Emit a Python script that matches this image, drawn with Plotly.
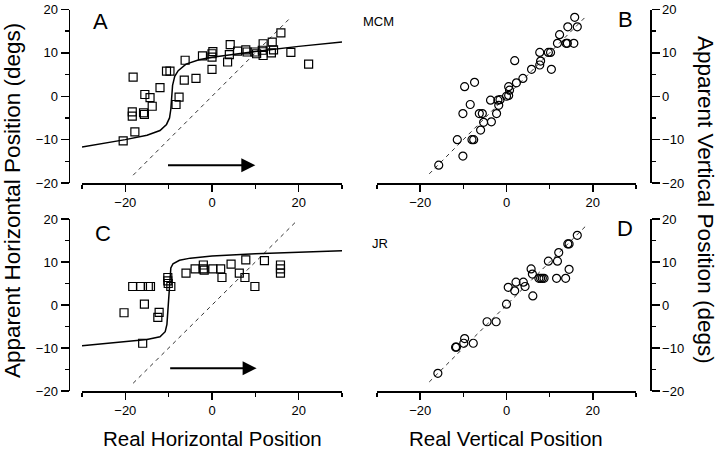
import plotly.graph_objects as go

# ---------------- data ----------------
# Panel A (MCM, horizontal)
a_x = [-20.5, -17.8, -18.2, -18.4, -18.4, -15.8, -15.6, -15.5, -14.3, -13.8, -12.0, -10.5, -9.7,
       -7.6, -8.3, -6.4, -3.7, -6.2, -2.2, 0.0, 0.2, 0.0, 0.0, 3.6, 4.0, 4.2, 5.9, 7.8, 8.1,
       9.9, 10.3, 11.8, 11.8, 11.6, 13.9, 14.2, 13.7, 15.9, 18.2, 22.3]
a_y = [-10.3, -8.2, 4.4, -3.6, -4.6, -3.8, -4.2, 0.4, -0.3, -2.3, 2.0, 5.8, 5.8,
       -0.2, -1.9, 3.7, 4.1, 8.3, 9.3, 9.0, 10.3, 9.8, 6.2, 7.9, 9.6, 11.9, 10.4, 10.7, 10.2,
       10.2, 9.8, 12.1, 9.4, 10.6, 12.5, 10.7, 10.0, 14.6, 10.1, 7.4]
a_curve_x = [-30, -25, -20, -15, -12, -10.5, -9.8, -9.5, -9.3, -9.1, -8.6, -7.8, -6, -3, 0, 5, 10, 20, 30]
a_curve_y = [-11.7, -10.9, -10.0, -9.0, -7.9, -6.5, -5.0, -3.0, 0.0, 2.5, 4.6, 5.9, 7.4, 8.4, 9.0, 9.7, 10.3, 11.5, 12.5]

# Panel B (MCM, vertical)
b_x = [-15.7, -11.4, -10.1, -8.0, -7.6, -6.0, -9.7, -7.4, -8.4, -10.1, -6.3, -5.6, -5.3, -3.7, -2.0,
       -3.5, -2.3, -1.8, -1.5, 0.0, 0.5, 0.7, 0.5, 2.3, 3.8, 1.9, 5.8, 7.7, 7.9, 7.7, 9.7, 10.2,
       10.4, 12.3, 11.8, 13.8, 14.1, 15.6, 14.2, 16.4, 15.8]
b_y = [-15.9, -10.0, -13.8, -10.0, -10.0, -7.8, 2.2, 3.2, -1.9, -4.0, -4.0, -4.0, -6.0, -0.9, -0.9,
       -5.9, -4.0, -2.1, -0.8, 0.0, 0.2, 1.4, 2.2, 3.1, 4.1, 8.2, 6.2, 7.2, 8.1, 10.1, 10.1, 10.1,
       6.2, 14.2, 12.2, 12.2, 12.2, 12.2, 16.0, 16.0, 18.2]

# Panel C (JR, horizontal)
c_x = [-20.3, -18.3, -16.5, -14.7, -14.2, -15.6, -12.2, -12.5, -16.0, -10.2, -10.2, -10.1, -9.5,
       -6.0, -3.9, -2.0, -2.0, -1.8, 0.2, 2.0, 2.3, 4.4, 6.3, 7.8, 7.6, 9.9, 12.1, 15.8, 15.8, 15.8]
c_y = [-1.8, 4.3, 4.3, 4.3, 4.3, 0.2, -1.7, -2.9, -8.9, 6.4, 5.6, 5.0, 4.3,
       7.4, 8.4, 9.3, 8.4, 8.1, 8.4, 8.4, 6.4, 9.5, 7.4, 10.5, 6.4, 4.3, 10.3, 9.3, 8.4, 7.4]
c_curve_x = [-30, -25, -20, -15, -12, -10.8, -10.4, -10.2, -10.0, -9.8, -9.5, -9.0, -7.5, -5, 0, 10, 20, 30]
c_curve_y = [-9.5, -9.0, -8.6, -8.0, -7.4, -6.2, -4.5, -1.5, 2.5, 6.5, 8.6, 9.6, 10.4, 10.9, 11.4, 11.9, 12.3, 12.6]

# Panel D (JR, vertical)
d_x = [-15.9, -11.8, -11.6, -9.7, -9.9, -7.7, -4.5, -2.4, 0.0, 0.4, 2.2, 1.9, 3.9, 4.3, 6.1,
       5.7, 6.0, 7.5, 7.9, 8.3, 8.7, 9.7, 11.8, 12.1, 11.6, 13.7, 14.5, 14.2, 14.5, 16.4]
d_y = [-15.9, -9.8, -9.8, -7.8, -8.9, -8.9, -3.9, -3.9, 0.2, 4.1, 5.3, 3.3, 5.3, 4.3, 2.1,
       8.4, 7.2, 6.2, 6.2, 6.2, 6.2, 10.2, 10.2, 12.2, 6.2, 6.2, 8.3, 14.2, 14.2, 16.2]

# identity (dashed) lines per panel
ident_a = [-18.2, 18.3]
ident_b = [-17.9, 18.4]
ident_c = [-18.2, 19.4]
ident_d = [-17.9, 18.5]

# motion arrows: [tail_x, tip_x, y]
arrow_a = [-10.5, 10.0, -15.9]
arrow_c = [-10.0, 10.3, -14.7]

x_tickvals = [-20, 0, 20]
y_tickvals = [-20, -10, 0, 10, 20]

# ---------------- figure ----------------
W, H = 720, 450
FONT = "Liberation Sans, Arial, Helvetica, sans-serif"

def fx(px):
    return px / W

def fy(py):
    return 1 - py / H

fig = go.Figure()

def scatter(x, y, ax, symbol):
    fig.add_trace(go.Scatter(x=x, y=y, mode="markers", xaxis=ax[0], yaxis=ax[1],
                             marker=dict(symbol=symbol, size=8, color="black",
                                         line=dict(width=1.2, color="black")),
                             showlegend=False, hoverinfo="skip"))

def line(x, y, ax, dash=None, width=1.5, color="black"):
    fig.add_trace(go.Scatter(x=x, y=y, mode="lines", xaxis=ax[0], yaxis=ax[1],
                             line=dict(color=color, width=width, dash=dash),
                             showlegend=False, hoverinfo="skip"))

axA, axB, axC, axD = ("x", "y"), ("x2", "y2"), ("x3", "y3"), ("x4", "y4")

line(ident_a, ident_a, axA, dash="4px,4px", width=1, color="#333")
line(a_curve_x, a_curve_y, axA)
scatter(a_x, a_y, axA, "square-open")

line(ident_b, ident_b, axB, dash="4px,4px", width=1, color="#333")
scatter(b_x, b_y, axB, "circle-open")

line(ident_c, ident_c, axC, dash="4px,4px", width=1, color="#333")
line(c_curve_x, c_curve_y, axC)
scatter(c_x, c_y, axC, "square-open")

line(ident_d, ident_d, axD, dash="4px,4px", width=1, color="#333")
scatter(d_x, d_y, axD, "circle-open")

xdom_l = [fx(82), fx(342)]
xdom_r = [fx(377), fx(636)]
ydom_t = [fy(183), fy(9.5)]
ydom_b = [fy(391), fy(219)]

tickfont = dict(family=FONT, size=13, color="black")

def xaxis(dom, anchor):
    return dict(domain=dom, anchor=anchor, range=[-30, 30], tickmode="array", tickvals=x_tickvals,
                ticks="outside", ticklen=7, tickwidth=1.5, tickcolor="black",
                minor=dict(tickmode="array", tickvals=[-30, -10, 10, 30], ticks="outside",
                           ticklen=4, tickwidth=1.5, tickcolor="black"),
                showline=True, linewidth=1.5, linecolor="black", showgrid=False, zeroline=False,
                tickfont=tickfont, automargin=False, fixedrange=True)

def yaxis(dom, pos, side):
    return dict(domain=dom, anchor="free", position=pos, side=side, range=[-20, 20],
                tickmode="array", tickvals=y_tickvals,
                ticks="outside", ticklen=8, tickwidth=1.5, tickcolor="black",
                minor=dict(tickmode="array", tickvals=[-15, -5, 5, 15], ticks="outside",
                           ticklen=4, tickwidth=1.5, tickcolor="black"),
                showline=True, linewidth=1.5, linecolor="black", showgrid=False, zeroline=False,
                tickfont=tickfont, automargin=False, fixedrange=True)

fig.update_layout(
    width=W, height=H,
    margin=dict(l=0, r=0, t=0, b=0),
    paper_bgcolor="white", plot_bgcolor="white",
    font=dict(family=FONT, color="black"),
    showlegend=False,
    xaxis=xaxis(xdom_l, "y"), yaxis=yaxis(ydom_t, fx(68.5), "left"),
    xaxis2=xaxis(xdom_r, "y2"), yaxis2=yaxis(ydom_t, fx(650), "right"),
    xaxis3=xaxis(xdom_l, "y3"), yaxis3=yaxis(ydom_b, fx(68.5), "left"),
    xaxis4=xaxis(xdom_r, "y4"), yaxis4=yaxis(ydom_b, fx(650), "right"),
)

def ptext(txt, px, py, size, angle=0):
    fig.add_annotation(text=txt, x=fx(px), y=fy(py), xref="paper", yref="paper",
                       showarrow=False, textangle=angle, xanchor="center", yanchor="middle",
                       font=dict(family=FONT, size=size, color="black"))

ptext("A", 100, 22, 22)
ptext("B", 625, 20, 22)
ptext("C", 103, 233, 22)
ptext("D", 625, 229, 22)
ptext("MCM", 378, 22, 13)
ptext("JR", 380, 243, 13)
ptext("Real Horizontal Position", 212, 438, 20.5)
ptext("Real Vertical Position", 506, 438, 20.5)
ptext("Apparent Horizontal Position (degs)", 12, 201, 22.5, angle=-90)
ptext("Apparent Vertical Position (degs)", 706, 200, 22.5, angle=90)

for arr, (xr, yr) in ((arrow_a, axA), (arrow_c, axC)):
    fig.add_annotation(x=arr[1], y=arr[2], ax=arr[0], ay=arr[2], xref=xr, yref=yr,
                       axref=xr, ayref=yr, text="", showarrow=True,
                       arrowhead=2, arrowsize=1.4, arrowwidth=2, arrowcolor="black", standoff=0)

fig.write_html("out.html",
               config={"displayModeBar": False, "staticPlot": True},
               post_script="document.body.style.margin='0';document.body.style.overflow='hidden';")
